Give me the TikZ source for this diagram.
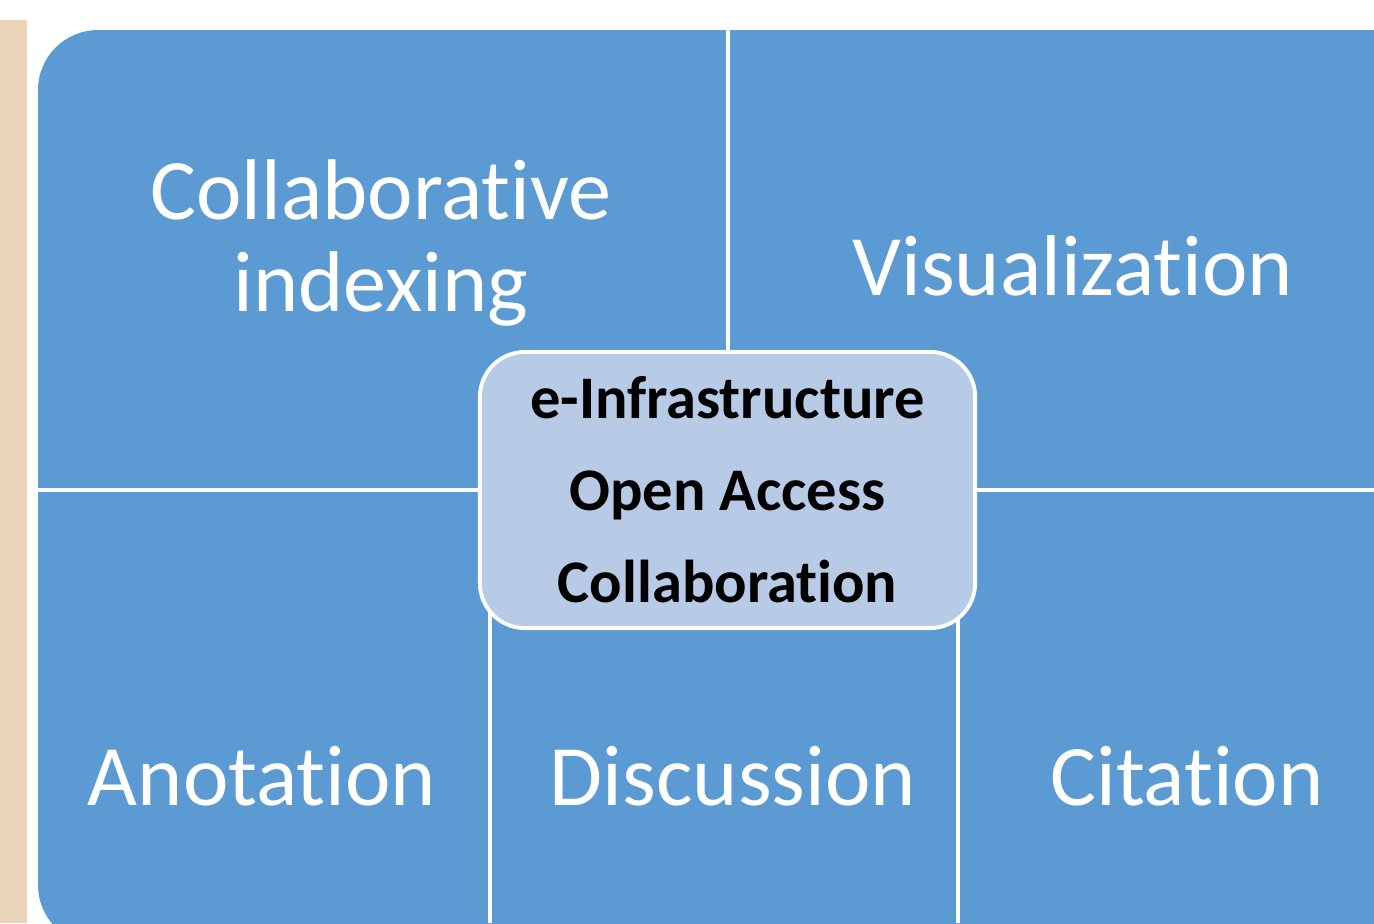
\documentclass[tikz,border=0pt]{standalone}
\usepackage{fontspec}
\setmainfont[Ligatures={NoCommon}]{Carlito}
\usetikzlibrary{positioning, calc}

\definecolor{tileblue}{HTML}{5B9AD3}
\definecolor{hubblue}{HTML}{B7CBE7}
\definecolor{sand}{HTML}{EAD5B8}

\begin{document}
\begin{tikzpicture}[x=0.01cm, y=-0.01cm]
    \tikzstyle{tile} = [fill=tileblue, rounded corners=0.6cm]
    \tikzstyle{sep} = [draw=white, line width=0.9pt]
    \tikzstyle{label} = [text=white, align=center, font=\fontsize{24.5}{26}\selectfont]
    \tikzstyle{hub} = [rectangle, rounded corners=0.45cm, minimum width=4.95cm, minimum height=2.76cm, text centered, align=center, draw=white, line width=1.1pt, fill=hubblue, font=\bfseries\fontsize{17.2}{26.2}\selectfont]

    \useasboundingbox (0,0) rectangle (1374,923);
    \clip (0,0) rectangle (1374,923);

    % side strip and the big panel
    \fill[sand] (0,20) rectangle (27,923);
    \fill[tile] (38,30) rectangle (1430,945);

    % tile borders
    \coordinate (topmid) at (728,30);
    \coordinate (leftmid) at (38,490);
    \coordinate (rightmid) at (1374,490);
    \draw[sep] (topmid) -- (728,400);
    \draw[sep] (leftmid) -- (600,490);
    \draw[sep] (rightmid) -- (900,490);
    \draw[sep] (490,560) -- (490,923);
    \draw[sep] (958,560) -- (958,923);

    \node (hub) [hub] at (727.5,490) {e-Infrastructure\\Open Access\\Collaboration};

    \node (indexing) [label] at (381,243) {Collaborative\\indexing};
    \node (visual) [label] at (1073,266) {Visualization};
    \node (anot) [label] at (262,776) {Anotation};
    \node (discuss) [label] at (733,776) {Discussion};
    \node (cite) [label] at (1187,776) {Citation};
\end{tikzpicture}
\end{document}
